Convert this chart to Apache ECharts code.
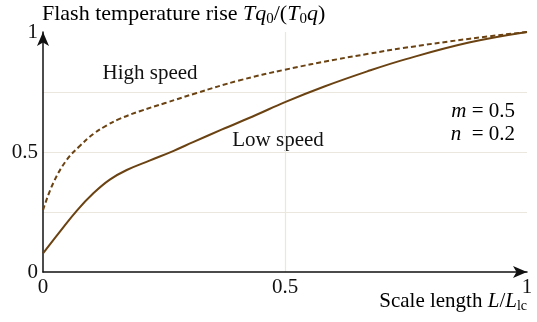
<!DOCTYPE html>
<html><head><meta charset="utf-8">
<script src="https://cdn.jsdelivr.net/npm/echarts@6/dist/echarts.min.js"></script>
<style>html,body{margin:0;padding:0;background:#fff}#c{width:537px;height:322px}</style>
</head><body><div id="c"></div>
<script>
const lowX  = [0, 0.035, 0.07, 0.104, 0.138, 0.173, 0.22, 0.27, 0.31, 0.37, 0.44, 0.5, 0.58, 0.67, 0.75, 0.88, 1];
const lowY  = [0.078, 0.168, 0.256, 0.328, 0.385, 0.425, 0.464, 0.505, 0.541, 0.594, 0.654, 0.708, 0.772, 0.836, 0.887, 0.956, 1];
const highX = [0, 0.021, 0.049, 0.076, 0.104, 0.131, 0.158, 0.2, 0.254, 0.316, 0.405, 0.5, 0.607, 0.672, 0.744, 0.882, 1];
const highY = [0.258, 0.37, 0.467, 0.525, 0.575, 0.61, 0.638, 0.67, 0.705, 0.745, 0.798, 0.843, 0.886, 0.909, 0.933, 0.972, 1];
const xTicks = ['0', '0.5', '1'];
const yTicks = ['0', '0.5', '1'];

const serif = '"Liberation Serif", "DejaVu Serif", serif';
const brown = '#6b4212';
const grid = '#ece7de';
const FS = 21;
const zip = (a, b) => a.map((v, i) => [v, b[i]]);
const fmt = (ticks) => (v) => { const s = String(+v.toFixed(2)); return ticks.includes(s) ? s : ''; };
const mkRich = (fs, sub) => ({
  n: {fontFamily: serif, fontSize: fs, color: '#111'},
  i: {fontFamily: serif, fontSize: fs, fontStyle: 'italic', color: '#111'},
  s: {fontFamily: serif, fontSize: sub, color: '#111', padding: [Math.round(fs * 0.45), 0, 0, 0]}
});
const rich = mkRich(FS, 14);
const richT = mkRich(22, 15);
const chart = echarts.init(document.getElementById('c'));
chart.setOption({
  animation: false,
  grid: {left: 43, right: 10, top: 32, bottom: 50},
  xAxis: {
    type: 'value', min: 0, max: 1, interval: 0.5,
    axisLine: {show: true, lineStyle: {color: '#111', width: 1.5}, symbol: ['none', 'arrow'], symbolSize: [9, 14]},
    axisTick: {show: false},
    axisLabel: {color: '#111', fontFamily: serif, fontSize: FS, margin: 5, formatter: fmt(xTicks)},
    splitLine: {show: true, lineStyle: {color: ['transparent', grid, 'transparent'], width: 1.2}}
  },
  yAxis: {
    type: 'value', min: 0, max: 1, interval: 0.25,
    axisLine: {show: true, lineStyle: {color: '#111', width: 1.5}, symbol: ['none', 'arrow'], symbolSize: [9, 14]},
    axisTick: {show: false},
    axisLabel: {color: '#111', fontFamily: serif, fontSize: FS, margin: 5, formatter: fmt(yTicks)},
    splitLine: {show: true, lineStyle: {color: ['transparent', grid, grid, grid, 'transparent'], width: 1.2}}
  },
  series: [
    {type: 'line', data: zip(lowX, lowY), smooth: 0.4, symbol: 'none', lineStyle: {color: brown, width: 2}},
    {type: 'line', data: zip(highX, highY), smooth: 0.4, symbol: 'none', lineStyle: {color: brown, width: 2, type: [5, 3]}}
  ],
  graphic: [
    {type: 'text', left: 42, top: 3, style: {text: '{n|Flash temperature rise }{i|Tq}{s|0}{n|/(}{i|T}{s|0}{i|q}{n|)}', rich: richT}},
    {type: 'text', x: 150, y: 73, style: {text: 'High speed', font: FS + 'px ' + serif, fill: '#111', align: 'center', verticalAlign: 'middle'}},
    {type: 'text', x: 278, y: 140, style: {text: 'Low speed', font: FS + 'px ' + serif, fill: '#111', align: 'center', verticalAlign: 'middle'}},
    {type: 'text', right: 22, top: 101, style: {text: '{i|m}{n| = 0.5}', rich: rich}},
    {type: 'text', right: 22, top: 124, style: {text: '{i|n}{n|  = 0.2}', rich: rich}},
    {type: 'text', right: 10, top: 291, style: {text: '{n|Scale length }{i|L}{n|/}{i|L}{s|lc}', rich: rich}}
  ]
});
</script></body></html>
